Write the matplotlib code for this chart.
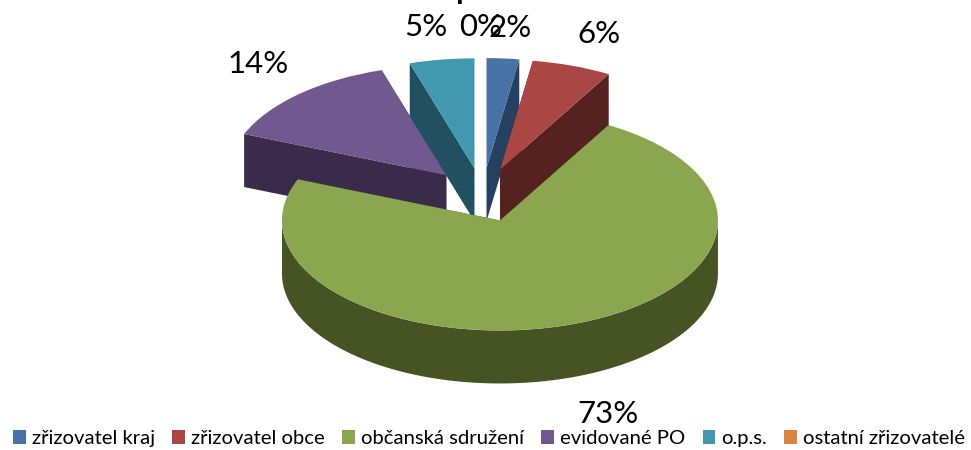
import numpy as np
import matplotlib
matplotlib.use("Agg")
import matplotlib.pyplot as plt
from matplotlib.patches import Polygon

title = "Poměr zařízení podle zřizovatele"
categories = ["zřizovatel kraj", "zřizovatel obce", "občanská sdružení",
              "evidované PO", "o.p.s.", "ostatní zřizovatelé"]
values = [2.4, 5.9, 72.8, 14.1, 4.8, 0.0]
labels = ["2%", "6%", "73%", "14%", "5%", "0%"]
top_colors = ["#4672A8", "#AA4643", "#8AA64E", "#71588F", "#4198AF", "#DB843D"]
side_colors = ["#254061", "#562220", "#465424", "#3B2B4A", "#215060", "#7A4A20"]
draw_order = [3, 4, 0, 1, 5, 2]

W, H = 971, 450
RX, RY, DEPTH = 218.0, 110.0, 53.0
CX, CY = 482.5, 195.0
EXPLODE = 0.245

plt.rcParams["font.family"] = ["Lato", "DejaVu Sans"]
fig = plt.figure(figsize=(W / 100, H / 100), dpi=100)
ax = fig.add_axes([0, 0, 1, 1])

wedges, _ = ax.pie(values, colors=top_colors, startangle=90, counterclock=False,
                   explode=[EXPLODE] * len(values), radius=1.0, center=(0, 0),
                   wedgeprops=dict(linewidth=0))
ax.set_aspect("auto")
# one data unit = RX px horizontally, RY px vertically
ax.set_xlim(-CX / RX, (W - CX) / RX)
ax.set_ylim(-(H - CY) / RY, CY / RY)
ax.axis("off")
d = DEPTH / RY

for i in draw_order:
    if values[i] <= 0:
        continue
    w = wedges[i]
    cx, cy = w.center
    a1, a2 = np.radians(w.theta1), np.radians(w.theta2)
    t = np.linspace(a1, a2, 300)
    ex, ey = cx + np.cos(t), cy + np.sin(t)
    w.set_zorder(10 + 2 * draw_order.index(i) + 1)
    z = 10 + 2 * draw_order.index(i)
    # two cut faces
    for a in (a1, a2):
        px, py = cx + np.cos(a), cy + np.sin(a)
        ax.add_patch(Polygon([(cx, cy), (px, py), (px, py - d), (cx, cy - d)],
                             closed=True, fc=side_colors[i], ec="none", zorder=z))
    # outer rim, front half only
    mask = np.sin(t) <= 0
    if mask.any():
        rx_, ry_ = ex[mask], ey[mask]
        ax.fill(np.r_[rx_, rx_[::-1]], np.r_[ry_, ry_[::-1] - d],
                fc=side_colors[i], ec="none", zorder=z)

# data labels
label_pos = {0: (510, 28), 1: (599, 34), 2: (608, 414), 3: (258, 64), 4: (426, 27), 5: (481, 27)}
for i, s in enumerate(labels):
    x, y = label_pos[i]
    ax.text((x - CX) / RX, (CY - y) / RY, s, fontsize=22.5, color="black",
            ha="center", va="center", zorder=50)

# title, cropped by the top of the picture as in the source
ax.text((467 - CX) / RX, (CY + 0.5) / RY, title, fontsize=22,
        fontweight="bold", ha="center", va="baseline", color="black", zorder=50, clip_on=False)

leg = ax.legend(wedges, categories, loc="lower left", bbox_to_anchor=(13 / W, 3 / H),
                bbox_transform=fig.transFigure, ncol=6, frameon=False, fontsize=14.6,
                handlelength=0.63, handleheight=0.63, handletextpad=0.3,
                columnspacing=0.85, borderpad=0, borderaxespad=0)
leg.set_zorder(60)
fig.savefig("out.png", dpi=100)
